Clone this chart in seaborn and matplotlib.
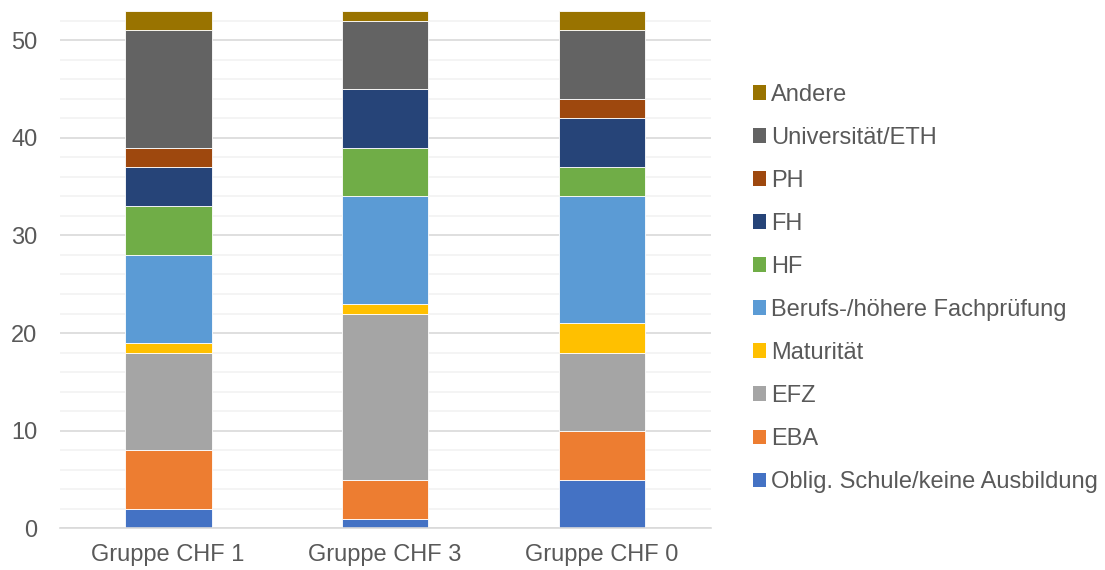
import pandas as pd
import matplotlib.pyplot as plt
import seaborn as sns
from matplotlib.ticker import MultipleLocator
from matplotlib.patches import Patch

# Data
groups = ['Gruppe CHF 1', 'Gruppe CHF 3', 'Gruppe CHF 0']
series = ['Oblig. Schule/keine Ausbildung', 'EBA', 'EFZ', 'Maturität',
          'Berufs-/höhere Fachprüfung', 'HF', 'FH', 'PH', 'Universität/ETH', 'Andere']

oblig = [2, 1, 5]
eba = [6, 4, 5]
efz = [10, 17, 8]
maturitaet = [1, 1, 3]
berufs = [9, 11, 13]
hf = [5, 5, 3]
fh = [4, 6, 5]
ph = [2, 0, 2]
uni = [12, 7, 7]
andere = [2, 1, 2]

values = [oblig, eba, efz, maturitaet, berufs, hf, fh, ph, uni, andere]
colors = ['#4472C4', '#ED7D31', '#A5A5A5', '#FFC000', '#5B9BD5',
          '#70AD47', '#264478', '#9E480E', '#636363', '#997300']

sns.set_style('white')
plt.rcParams['font.family'] = ['Liberation Sans', 'DejaVu Sans']

fig = plt.figure(figsize=(11.05, 5.7), dpi=100)
ax = fig.add_axes([0.054, 0.073, 0.589, 0.908])

bottom = [0, 0, 0]
for name, vals, col in zip(series, values, colors):
    df = pd.DataFrame({'group': groups, 'value': vals})
    sns.barplot(data=df, x='group', y='value', color=col, saturation=1,
                width=0.4, bottom=bottom, edgecolor='white', linewidth=0.6,
                ax=ax, zorder=3)
    bottom = [b + v for b, v in zip(bottom, vals)]

ax.set_ylim(0, 53)
ax.set_xlim(-0.5, 2.5)
ax.yaxis.set_major_locator(MultipleLocator(10))
ax.yaxis.set_minor_locator(MultipleLocator(2))
ax.grid(axis='y', which='major', color='#d9d9d9', linewidth=1.2, zorder=0)
ax.grid(axis='y', which='minor', color='#f2f2f2', linewidth=1.2, zorder=0)
ax.set_axisbelow(True)

for s in ['top', 'right', 'left']:
    ax.spines[s].set_visible(False)
ax.spines['bottom'].set_color('#d9d9d9')
ax.spines['bottom'].set_linewidth(1.2)
ax.spines['bottom'].set_zorder(4)

ax.set_xlabel('')
ax.set_ylabel('')
ax.tick_params(axis='y', which='both', length=0, labelsize=17,
               labelcolor='#595959', pad=16)
ax.tick_params(axis='x', which='major', length=0, labelsize=17,
               labelcolor='#595959', pad=11)
ax.set_xticks([-0.5, 0.5, 1.5, 2.5], minor=True)
ax.tick_params(axis='x', which='minor', length=6, color='#d9d9d9', width=1.2)

handles = [Patch(facecolor=c, edgecolor='none') for c in colors]
fig.legend(handles[::-1], series[::-1], loc='center left',
           bbox_to_anchor=(0.673, 0.494), frameon=False, fontsize=17,
           labelcolor='#595959', handlelength=0.55, handleheight=0.55,
           handletextpad=0.2, labelspacing=0.89, borderaxespad=0)

plt.savefig('out.png', dpi=100)
